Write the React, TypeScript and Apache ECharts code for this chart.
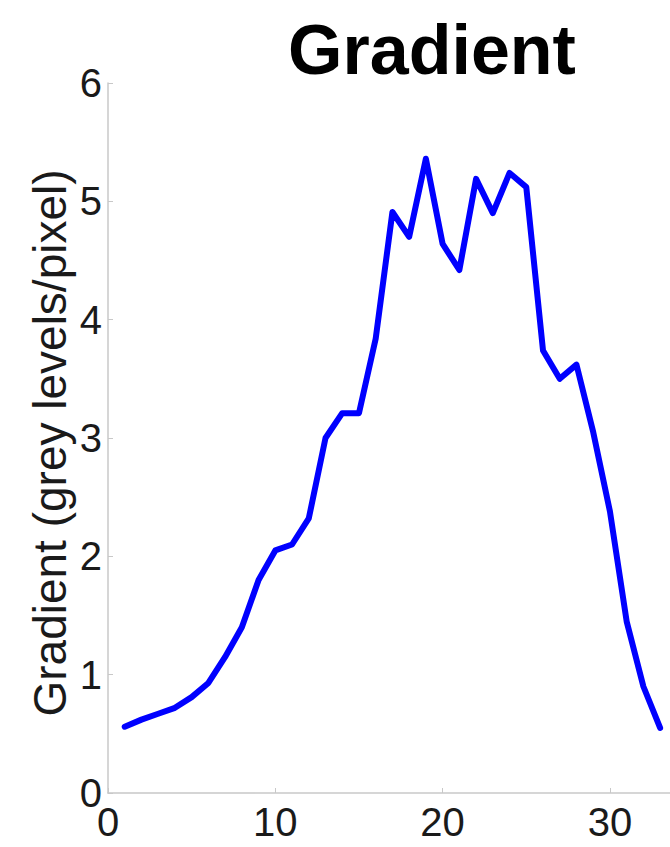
import React, { useEffect, useRef } from "react";
import * as echarts from "echarts";

const xValues: number[] = [1,2,3,4,5,6,7,8,9,10,11,12,13,14,15,16,17,18,19,20,21,22,23,24,25,26,27,28,29,30,31,32,33];
const gradientValues: number[] = [0.56,0.62,0.67,0.72,0.81,0.93,1.15,1.40,1.80,2.05,2.10,2.32,3.00,3.21,3.21,3.84,4.91,4.70,5.36,4.64,4.42,5.19,4.90,5.24,5.12,3.74,3.50,3.62,3.05,2.38,1.45,0.90,0.55];
const titleText = "Gradient";
const yAxisTitle = "Gradient (grey levels/pixel)";

export default function App() {
  const ref = useRef<HTMLDivElement>(null);
  useEffect(() => {
    if (!ref.current) return;
    document.body.style.margin = "0";
    const chart = echarts.init(ref.current, null, { renderer: "svg" });
    const font = "'Liberation Sans', Arial, Helvetica, sans-serif";
    chart.setOption({
      animation: false,
      backgroundColor: "#ffffff",
      grid: { left: 108, right: 0, top: 83, bottom: 54, containLabel: false },
      xAxis: {
        type: "value",
        min: 0,
        max: 33.59,
        interval: 10,
        axisLine: { show: true, lineStyle: { color: "#c8c8c8", width: 1.5 } },
        axisTick: { show: true, inside: true, length: 5, lineStyle: { color: "#c8c8c8" } },
        splitLine: { show: false },
        axisLabel: {
          color: "#1a1a1a",
          fontSize: 40,
          fontFamily: font,
          margin: 9,
          showMaxLabel: false,
        },
      },
      yAxis: {
        type: "value",
        min: 0,
        max: 6,
        interval: 1,
        axisLine: { show: true, lineStyle: { color: "#c8c8c8", width: 1.5 } },
        axisTick: { show: true, inside: true, length: 5, lineStyle: { color: "#c8c8c8" } },
        splitLine: { show: false },
        axisLabel: {
          color: "#1a1a1a",
          fontSize: 40,
          fontFamily: font,
          margin: 6,
          padding: [16, 0, 0, 0],
        },
      },
      graphic: [
        {
          type: "text",
          x: 432,
          y: 50,
          style: {
            text: titleText,
            fontSize: 70,
            fontWeight: "bold",
            fontFamily: font,
            fill: "#000000",
            textAlign: "center",
            textVerticalAlign: "middle",
          },
        },
        {
          type: "text",
          x: 50,
          y: 443,
          rotation: Math.PI / 2,
          style: {
            text: yAxisTitle,
            fontSize: 46,
            fontFamily: font,
            fill: "#1a1a1a",
            textAlign: "center",
            textVerticalAlign: "middle",
          },
        },
      ],
      series: [
        {
          type: "line",
          data: xValues.map((x, i) => [x, gradientValues[i]]),
          showSymbol: false,
          symbol: "none",
          lineStyle: { color: "#0000ff", width: 6, join: "round", cap: "round" },
        },
      ],
    });
    return () => chart.dispose();
  }, []);
  return <div ref={ref} style={{ position: "fixed", left: 0, top: 0, width: 670, height: 847 }} />;
}
